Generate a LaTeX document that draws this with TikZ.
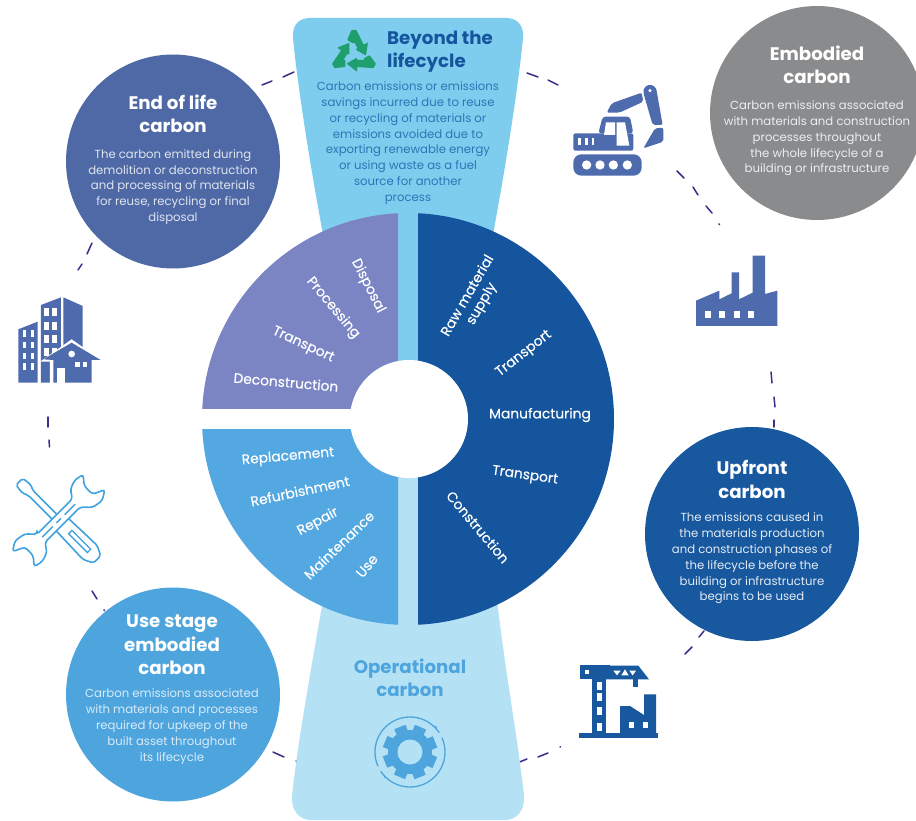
\documentclass[tikz,border=0pt]{standalone}
\usepackage{fontspec}
\setmainfont{Poppins}
\newfontfamily\wheelfont[FakeBold=0.25]{Poppins}
\definecolor{purplequad}{HTML}{7B85C4}
\definecolor{bluequad}{HTML}{54A8E2}
\definecolor{navyquad}{HTML}{14559E}
\definecolor{topshape}{HTML}{7FCDEE}
\definecolor{botshape}{HTML}{B5E1F5}
\definecolor{endcirc}{HTML}{4E69A6}
\definecolor{embcirc}{HTML}{898B8D}
\definecolor{upcirc}{HTML}{17589F}
\definecolor{usecirc}{HTML}{4EA5DE}
\definecolor{dashcol}{HTML}{3A2E8C}
\definecolor{iconblue}{HTML}{4E6BAE}
\definecolor{toolblue}{HTML}{3FA3E0}
\definecolor{recyc}{HTML}{1F9E6E}
\definecolor{beyondtxt}{HTML}{2A76B6}
\tikzset{
  bodytxt/.style={align=center,inner sep=0pt,font=\fontsize{11.7}{15.8}\selectfont},
  titletxt/.style={align=center,inner sep=0pt,font=\fontsize{18.2}{23.5}\selectfont\bfseries},
  wheeltxt/.style={align=center,inner sep=0pt,text=white,font=\fontsize{13.8}{16}\selectfont\wheelfont},
  bigdisc/.style={circle,inner sep=0pt,minimum size=214pt},
  dashseg/.style={draw=dashcol,line width=1.5pt,line cap=round},
}
\begin{document}
\begin{tikzpicture}[x=1pt,y=-1pt]
\useasboundingbox (0,0) rectangle (916,821);
\fill[white] (0,0) rectangle (916,821);
% dashed ring
\foreach \a/\b/\c/\d in {262/85/272/81, 283/77/294/72, 92/243/87/254, 82/264/78/270, 527/73/538/77, 548/80/558/85,
  677/171/684/178, 693/187/698/195, 706/206/712/213, 719/224/719.5/224.5, 771/372/772/383, 774/397/775/407, 774/420/774/427,
  704/631/699/637, 692/647/685/654, 517/763/527/759, 538/757/548/753, 560/747/560.5/746.8,
  273/752/284/757, 296/761/296.5/761.2, 92/591/97/599, 104/610/104.5/610.5, 48/417/48/427, 49/440/49.5/447}
  \draw[dashseg] (\a,\b) -- (\c,\d);
% top and bottom funnels
\fill[topshape] (310,18) -- (506,18) .. controls (518,18) and (524,26) .. (523,38)
   .. controls (518,90) and (505,170) .. (492,240) -- (324,240) .. controls (311,170) and (298,90) .. (293,38)
   .. controls (292,26) and (298,18) .. (310,18) -- cycle;
\fill[botshape] (323,600) -- (497,600) .. controls (505,670) and (518,740) .. (524,796)
   .. controls (525,810) and (517,820) .. (505,820) -- (311,820) .. controls (299,820) and (291,810) .. (292,796)
   .. controls (298,740) and (311,670) .. (323,600) -- cycle;
\fill[topshape] (398,213) rectangle (418,419);
\fill[botshape] (398,419) rectangle (418,625);
% wheel
\begin{scope}\clip (190,200) rectangle (398,409); \fill[purplequad] (408,419) circle (206pt); \end{scope}
\begin{scope}\clip (190,429) rectangle (398,640); \fill[bluequad] (408,419) circle (206pt); \end{scope}
\begin{scope}\clip (418,200) rectangle (640,640); \fill[navyquad] (408,419) circle (206pt); \end{scope}
\fill[white] (190,409) rectangle (398,429);
\fill[white] (409,419) circle (59pt);
% circles
\node[bigdisc,fill=endcirc] (endc) at (173,161.5) {};
\node[bigdisc,fill=embcirc] (embc) at (817,113) {};
\node[bigdisc,fill=upcirc] (upc) at (752,534) {};
\node[bigdisc,fill=usecirc] (usec) at (173,694.5) {};
% circle text
\node[titletxt,text=white] (t1) at (173,114) {End of life\\carbon};
\node[bodytxt,text=white!82!endcirc] (b1) at (173,187) {The carbon emitted during\\demolition or deconstruction\\and processing of materials\\for reuse, recycling or final\\disposal};
\node[titletxt,text=white] (t2) at (817,65) {Embodied\\carbon};
\node[bodytxt,text=white!85!embcirc] (b2) at (817,138.5) {Carbon emissions associated\\with materials and construction\\processes throughout\\the whole lifecycle of a\\building or infrastructure};
\node[titletxt,text=white] (t3) at (752,479.5) {Upfront\\carbon};
\node[bodytxt,text=white!88!upcirc] (b3) at (752,558.5) {The emissions caused in\\the materials production\\and construction phases of\\the lifecycle before the\\building or infrastructure\\begins to be used};
\node[titletxt,text=white] (t4) at (172,645) {Use stage\\embodied\\carbon};
\node[bodytxt,text=white!78!usecirc] (b4) at (172,726.5) {Carbon emissions associated\\with materials and processes\\required for upkeep of the\\built asset throughout\\its lifecycle};
% funnels text
\node[titletxt,text=navyquad,align=left,anchor=west] (t5) at (387,51.5) {Beyond the\\lifecycle};
\node[bodytxt,text=beyondtxt] (b5) at (408,143) {Carbon emissions or emissions\\savings incurred due to reuse\\or recycling of materials or\\emissions avoided due to\\exporting renewable energy\\or using waste as a fuel\\source for another\\process};
\node[titletxt,text=usecirc] (t6) at (410,678) {Operational\\carbon};
% wheel labels
\node[wheeltxt,rotate=60] (w1) at (475,300) {Raw material\\supply};
\node[wheeltxt,rotate=38] (w2) at (524,354) {Transport};
\node[wheeltxt] (w3) at (540,415) {Manufacturing};
\node[wheeltxt,rotate=-8] (w4) at (525,476) {Transport};
\node[wheeltxt,rotate=-50] (w5) at (478,527) {Construction};
\node[wheeltxt,rotate=-63] (w6) at (368,286) {Disposal};
\node[wheeltxt,rotate=-50] (w7) at (333,308) {Processing};
\node[wheeltxt,rotate=-25] (w8) at (303,345) {Transport};
\node[wheeltxt,rotate=-5] (w9) at (286,382) {Deconstruction};
\node[wheeltxt,rotate=5] (w10) at (288,457) {Replacement};
\node[wheeltxt,rotate=12] (w11) at (300,491) {Refurbishment};
\node[wheeltxt,rotate=28] (w12) at (318,522) {Repair};
\node[wheeltxt,rotate=44] (w13) at (339,545) {Maintenance};
\node[wheeltxt,rotate=50] (w14) at (367,566) {Use};
% recycling icon
\foreach \r in {0,120,240}{
\begin{scope}[shift={(354,54)},rotate=\r]
  \fill[recyc,rounded corners=0.8pt] (-6.9,-14) -- (-2.5,-24) -- (2.5,-24) -- (9.7,-9.2) -- (14,-11.7) -- (12,1.7) -- (1.5,-4.5) -- (3.6,-5.7) -- (0,-12) -- (-0.8,-10.5) -- cycle;
\end{scope}}
% gear icon
\begin{scope}[shift={(410,752)}]
  \draw[usecirc,line width=1.3pt] (0,0) circle (35pt);
  \fill[botshape] (31,-17) circle (3pt) (-31,17) circle (3pt);
  \fill[usecirc] (26,-25) circle (1.2pt) (-25,25) circle (1.2pt);
  \foreach \r in {0,45,...,315}{
    \begin{scope}[rotate=\r+22]\fill[usecirc] (17,-6) rectangle (27,6);\end{scope}}
  \fill[usecirc] (0,0) circle (22pt);
  \fill[botshape] (0,0) circle (12.5pt);
\end{scope}
% excavator
\begin{scope}[shift={(280,0)},scale=1/3]
  \fill[iconblue,rounded corners=8pt] (880,463) rectangle (1085,527);
  \foreach \q in {920,960,1000,1042}{\fill[white] (\q,495) circle (14pt);}
  \fill[iconblue,rounded corners=2pt] (880,400) rectangle (1060,452);
  \fill[iconblue,rounded corners=3pt] (955,400) -- (968,350) -- (1050,350) -- (1060,400) -- cycle;
  \fill[white] (972,405) -- (978,367) -- (1005,367) -- (1005,405) -- cycle;
  \fill[white] (1010,367) -- (1035,367) -- (1048,437) -- (1010,437) -- cycle;
  \foreach \q in {895,915,935}{\fill[white] (\q,413) rectangle ++(8,22);}
  \fill[iconblue,rounded corners=2pt] (980,338) -- (995,310) -- (1085,278) -- (1090,305) -- (1018,338) -- cycle;
  \fill[iconblue,rounded corners=2pt] (1090,278) -- (1092,262) -- (1110,253) -- (1128,262) -- (1148,375) -- (1118,375) -- cycle;
  \fill[white] (1110,272) circle (5pt);
  \fill[iconblue,rounded corners=2pt] (1125,385) -- (1150,383) -- (1150,425) -- (1090,445) -- cycle;
\end{scope}
% factory
\begin{scope}[shift={(680,240)},scale=1/3]
  \fill[iconblue] (48,182) -- (118,152) -- (118,178) -- (155,160) -- (155,97) -- (177,97) -- (177,178) -- (218,158) -- (218,47) -- (255,47) -- (255,162) -- (292,152) -- (292,258) -- (48,258) -- cycle;
  \foreach \q in {75,118,162,205}{\fill[white] (\q,213) rectangle ++(18,22);}
\end{scope}
% buildings
\begin{scope}[shift={(0,280)},scale=1/3]
  \fill[iconblue] (55,148) -- (113,125) -- (113,308) -- (55,308) -- cycle;
  \fill[iconblue] (123,75) -- (183,52) -- (183,308) -- (123,308) -- cycle;
  \fill[iconblue] (190,52) -- (248,78) -- (248,308) -- (190,308) -- cycle;
  \foreach \q in {69,92}{\foreach \w in {150,185,218,250}{\fill[white] (\q,\w) rectangle ++(10,20);}}
  \foreach \q in {133,157}{\foreach \w in {85,125,165,205}{\fill[white] (\q,\w) rectangle ++(13,24);}}
  \fill[white] (120,245) -- (215,178) -- (315,248) -- (285,248) -- (285,315) -- (150,315) -- (150,245) -- cycle;
  \fill[iconblue] (130,238) -- (215,188) -- (302,240) -- (275,240) -- (275,308) -- (160,308) -- (160,240) -- cycle;
  \fill[white] (172,265) rectangle (196,308);
  \fill[white] (215,222) circle (10pt);
  \fill[white] (226,245) rectangle ++(13,15);
  \fill[white] (248,245) rectangle ++(13,15);
\end{scope}
% tools
\begin{scope}[shift={(0,280)},scale=1/3]
  \begin{scope}[shift={(58,605)},rotate=-45]
    \draw[toolblue,line width=1.6pt,fill=white,rounded corners=2pt] (0,-14) -- (30,-18) -- (48,-10) -- (170,-10) -- (178,-26) -- (300,-30) -- (330,-15) -- (330,15) -- (300,30) -- (178,26) -- (170,10) -- (48,10) -- (30,18) -- (0,14) -- cycle;
    \draw[toolblue,line width=1.3pt,line cap=round] (215,-8) -- (295,-8) -- (295,6) -- (215,6) -- cycle;
  \end{scope}
  \begin{scope}[shift={(176,722)},rotate=45]
    \draw[toolblue,line width=1.6pt,fill=white,rounded corners=3pt] (-75,-17) -- (75,-17) -- (92,-42) -- (120,-52) -- (150,-46) -- (128,-20) -- (128,16) -- (164,32) -- (135,50) -- (100,44) -- (75,17) -- (-75,17) -- (-92,42) -- (-120,52) -- (-150,46) -- (-128,20) -- (-128,-16) -- (-164,-32) -- (-135,-50) -- (-100,-44) -- (-75,-17) -- cycle;
    \draw[toolblue,line width=1.3pt] (-70,0) -- (-25,0) (-10,0) -- (10,0) (25,0) -- (70,0);
  \end{scope}
\end{scope}
% crane
\begin{scope}[shift={(280,600)},scale=1/3]
  \fill[upcirc] (935,195) rectangle (978,400);
  \fill[upcirc] (900,195) rectangle (990,238);
  \fill[upcirc] (985,197) -- (1075,197) -- (1107,238) -- (978,238) -- cycle;
  \fill[white] (1000,212) -- (1022,212) -- (1011,226) -- cycle;
  \fill[white] (1024,226) -- (1035,208) -- (1046,226) -- cycle;
  \fill[white] (1048,212) -- (1068,212) -- (1058,226) -- cycle;
  \fill[white] (915,210) rectangle ++(12,13);
  \fill[upcirc] (1060,238) rectangle (1075,262);
  \foreach \w in {245,280,320,368}{\fill[white] (950,\w) rectangle ++(15,24);}
  \fill[upcirc] (898,400) rectangle (1135,413);
  \fill[upcirc] (1020,400) -- (1020,318) -- (1050,318) -- (1092,345) -- (1092,283) -- (1128,283) -- (1128,400) -- cycle;
  \fill[white] (1047,365) rectangle ++(15,20);
  \fill[white] (1090,365) rectangle ++(15,20);
\end{scope}
\end{tikzpicture}
\end{document}
